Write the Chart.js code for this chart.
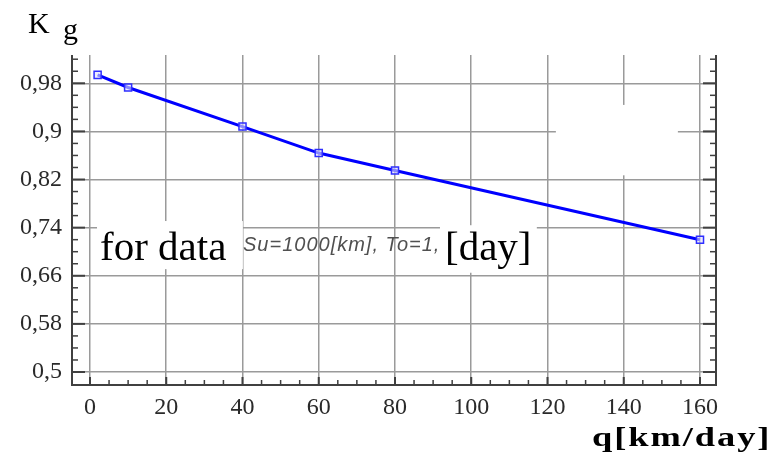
<!DOCTYPE html>
<html><head><meta charset="utf-8">
<script src="https://cdn.jsdelivr.net/npm/chart.js@4.4.1/dist/chart.umd.min.js"></script>
<style>html,body{margin:0;padding:0;background:#fff;} #wrap{width:775px;height:454px;position:relative;}</style>
</head><body><div id="wrap"><canvas id="c"></canvas></div>
<script>
const qValues = [2, 10, 40, 60, 80, 160];
const kgValues = [0.994, 0.973, 0.908, 0.864, 0.835, 0.720];
const xTickValues = [0, 20, 40, 60, 80, 100, 120, 140, 160];
const yTickValues = [0.5, 0.58, 0.66, 0.74, 0.82, 0.9, 0.98];
const yTickLabels = ['0,5', '0,58', '0,66', '0,74', '0,82', '0,9', '0,98'];
const yTitleMain = 'K';
const yTitleSub = 'g';
const xTitle = 'q[km/day]';
const noteMain = 'for data';
const noteSmall = 'Su=1000[km], To=1,';
const noteUnit = '[day]';

const decor = {
  id: 'decor',
  beforeDatasetsDraw(chart) {
    const {ctx, scales: {x, y}} = chart;
    const box = (x0, x1, y0, y1) => {
      const px0 = x.getPixelForValue(x0), px1 = x.getPixelForValue(x1);
      const py0 = y.getPixelForValue(y0), py1 = y.getPixelForValue(y1);
      ctx.fillStyle = '#fff';
      ctx.fillRect(px0, py0, px1 - px0, py1 - py0);
    };
    ctx.save();
    box(1.84, 40.1, 0.751, 0.671);
    box(122.2, 154.2, 0.944, 0.827);
    ctx.textAlign = 'left';
    ctx.textBaseline = 'alphabetic';
    ctx.font = 'italic 20px "Liberation Sans"';
    ctx.letterSpacing = '1px';
    ctx.fillStyle = '#505050';
    ctx.fillText(noteSmall, 243, 251);
    ctx.letterSpacing = '0px';
    box(91.8, 117.2, 0.744, 0.665);
    ctx.font = '41px "Liberation Serif"';
    ctx.fillStyle = '#000';
    ctx.fillText(noteMain, 100, 260);
    ctx.fillText(noteUnit, 445, 260);
    ctx.restore();
  },
  afterDraw(chart) {
    const {ctx, chartArea: {left: L, right: R, top: T, bottom: B}, scales: {x, y}} = chart;
    ctx.save();
    ctx.strokeStyle = '#404040';
    const line = (a, b, c, d, w) => { ctx.lineWidth = w; ctx.beginPath(); ctx.moveTo(a, b); ctx.lineTo(c, d); ctx.stroke(); };
    line(L, T, L, B + 1, 2);
    line(L - 1, B, R + 1, B, 2);
    line(R, T, R, B + 1, 2);
    for (let i = 0; i <= 30; i++) {
      const v = 0.48 + i * 0.02;
      const py = y.getPixelForValue(v);
      if (py < T + 1 || py > B - 2) continue;
      const major = yTickValues.some(t => Math.abs(t - v) < 1e-6);
      const len = major ? 13 : 6;
      line(L, py, L + len, py, major ? 2 : 1.5);
      line(R, py, R - len, py, major ? 2 : 1.5);
    }
    for (let v = 0; v <= 164; v += 5) {
      const px = x.getPixelForValue(v);
      const major = v % 20 === 0;
      line(px, B, px, B - (major ? 8 : 5), major ? 2 : 1.5);
    }
    ctx.fillStyle = '#000';
    ctx.textAlign = 'left';
    ctx.textBaseline = 'alphabetic';
    ctx.font = '30px "Liberation Serif"';
    ctx.fillText(yTitleMain, 28, 33);
    ctx.fillText(yTitleSub, 63, 39);
    ctx.translate(592, 446);
    ctx.scale(1.3, 1);
    ctx.font = 'bold 28px "Liberation Serif"';
    ctx.letterSpacing = '1.5px';
    ctx.fillText(xTitle, 0, 0);
    ctx.restore();
  }
};

const gridOpts = {color: '#9a9a9a', lineWidth: 1.5, drawTicks: false};
const tickFont = {family: 'Liberation Serif', size: 24};

new Chart(document.getElementById('c'), {
  type: 'line',
  data: {
    datasets: [{
      data: qValues.map((q, i) => ({x: q, y: kgValues[i]})),
      borderColor: '#0000ff',
      borderWidth: 3,
      tension: 0,
      fill: false,
      pointStyle: 'rect',
      pointRadius: 5,
      pointBorderColor: '#2f2fff',
      pointBorderWidth: 1.5,
      pointBackgroundColor: 'rgba(225,225,255,0.6)'
    }]
  },
  options: {
    responsive: true,
    maintainAspectRatio: false,
    animation: false,
    layout: {padding: {left: 0, right: 59, top: 55, bottom: 0}},
    plugins: {legend: {display: false}, tooltip: {enabled: false}},
    scales: {
      x: {
        type: 'linear', min: -4.72, max: 164.2,
        afterBuildTicks: s => { s.ticks = xTickValues.map(v => ({value: v})); },
        afterFit: s => { s.height = 69; },
        grid: gridOpts,
        border: {display: false},
        ticks: {padding: 8, font: tickFont, color: '#2a2a2a', maxRotation: 0, autoSkip: false, callback: v => String(v)}
      },
      y: {
        type: 'linear', min: 0.4784, max: 1.027,
        afterBuildTicks: s => { s.ticks = yTickValues.map(v => ({value: v})); },
        afterFit: s => { s.width = 72; },
        grid: gridOpts,
        border: {display: false},
        ticks: {padding: 10, font: tickFont, color: '#2a2a2a', autoSkip: false, callback: (v, i) => yTickLabels[i]}
      }
    }
  },
  plugins: [decor]
});
</script>
</body></html>
